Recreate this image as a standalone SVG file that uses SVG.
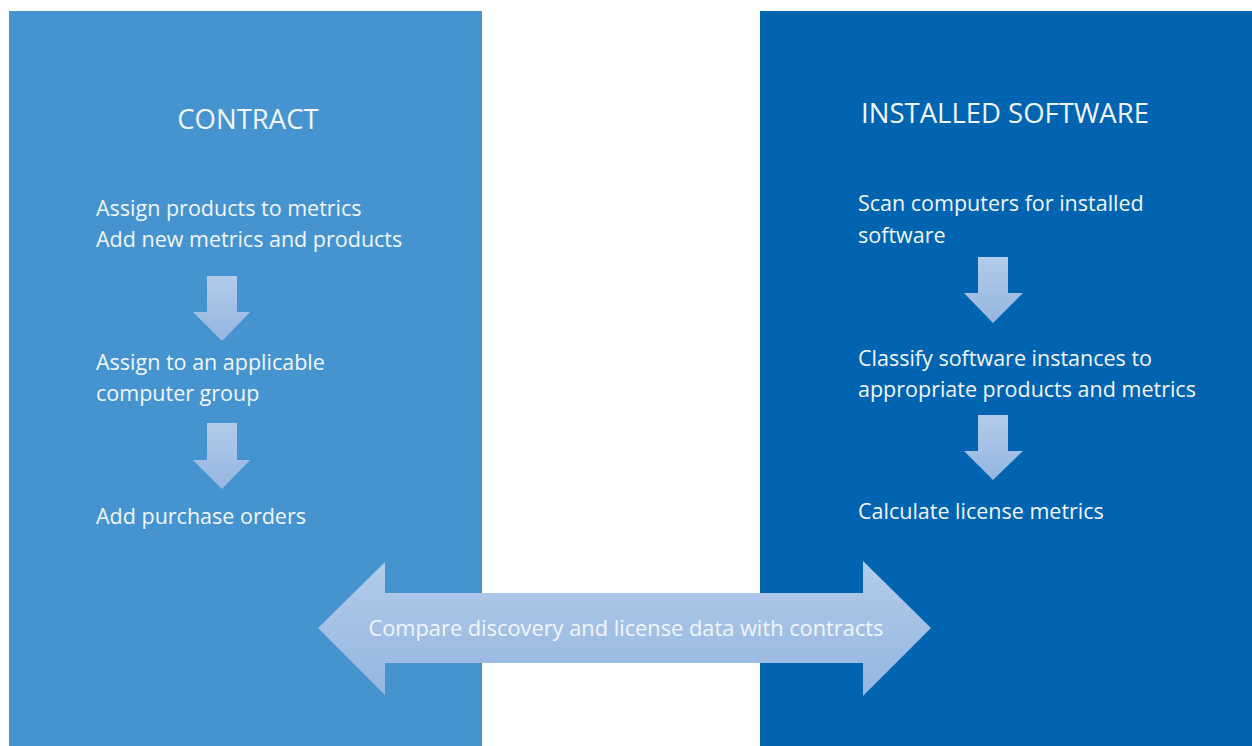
<svg xmlns="http://www.w3.org/2000/svg" width="1252" height="746" viewBox="0 0 1252 746">
<defs>
<linearGradient id="ag" x1="0" y1="0" x2="0" y2="1">
<stop offset="0" stop-color="#B2CBEA"/>
<stop offset="1" stop-color="#95B6E0"/>
</linearGradient>
<style>
.t{font-family:"Open Sans","Liberation Sans",sans-serif;fill:#F2F6FC;font-size:21.5px}
.h{font-family:"Open Sans","Liberation Sans",sans-serif;fill:#F2F6FC;font-size:27.5px}
.ar{fill:url(#ag)}
</style>
</defs>
<rect width="1252" height="746" fill="#FFFFFF"/>
<g id="contract">
<rect x="9" y="11" width="473" height="735" fill="#4594D0"/>
<text class="h" x="248" y="129" text-anchor="middle">CONTRACT</text>
<text class="t" x="96" y="216">Assign products to metrics</text>
<text class="t" x="96" y="247">Add new metrics and products</text>
<text class="t" x="96" y="370">Assign to an applicable</text>
<text class="t" x="96" y="401">computer group</text>
<text class="t" x="96" y="524">Add purchase orders</text>
</g>
<g id="installed">
<rect x="760" y="11" width="492" height="735" fill="#0064B0"/>
<text class="h" x="1005" y="123" text-anchor="middle">INSTALLED SOFTWARE</text>
<text class="t" x="858" y="211">Scan computers for installed</text>
<text class="t" x="858" y="243">software</text>
<text class="t" x="858" y="366">Classify software instances to</text>
<text class="t" x="858" y="397">appropriate products and metrics</text>
<text class="t" x="858" y="519">Calculate license metrics</text>
</g>
<g id="connectors">
<polygon class="ar" points="207,276 237,276 237,312 250,312 222,341 193,312 207,312"/>
<polygon class="ar" points="207,423 237,423 237,460 250,460 222,489 193,460 207,460"/>
<polygon class="ar" points="978,257 1008,257 1008,293 1023,293 993,323 964,293 978,293"/>
<polygon class="ar" points="978,415 1008,415 1008,451 1023,451 993,480 964,451 978,451"/>
<g id="compare">
<polygon class="ar" points="318,628 385,562 385,593 863,593 863,561 931,628 863,696 863,663 385,663 385,695"/>
<text class="t" x="626" y="636" text-anchor="middle" style="font-size:21.8px">Compare discovery and license data with contracts</text>
</g>
</g>
</svg>
